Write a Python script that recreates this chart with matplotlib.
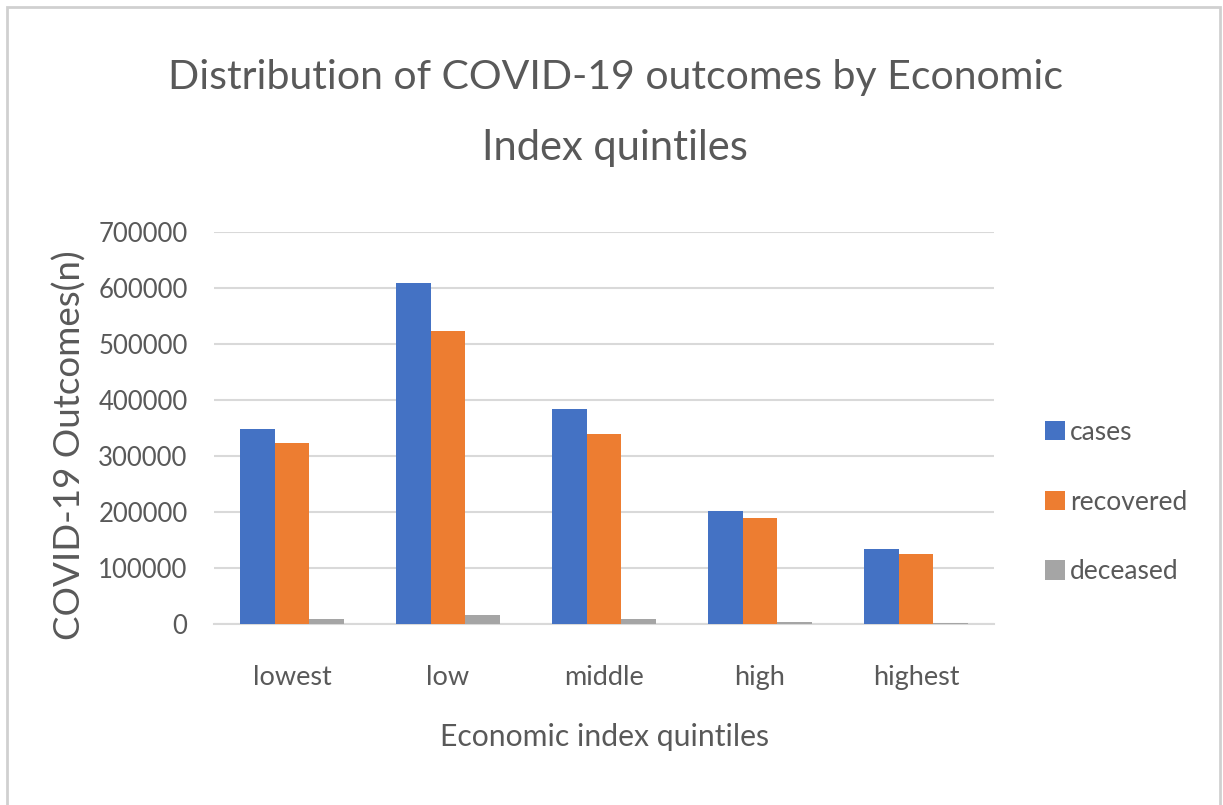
import matplotlib
matplotlib.use("Agg")
import matplotlib.pyplot as plt
from matplotlib.patches import Rectangle
import numpy as np

categories = ["lowest", "low", "middle", "high", "highest"]
cases = [349000, 610000, 385000, 203000, 135000]
recovered = [324000, 524000, 339000, 189000, 125000]
deceased = [9500, 16500, 9000, 3600, 3200]
series_names = ["cases", "recovered", "deceased"]
colors = ["#4472C4", "#ED7D31", "#A5A5A5"]
yticks = [0, 100000, 200000, 300000, 400000, 500000, 600000, 700000]

plt.rcParams['font.family'] = ['Lato', 'DejaVu Sans']
TXT = "#595959"

fig = plt.figure(figsize=(12.23, 8.05), dpi=100)
W, H = 1223, 805
ax = fig.add_axes([214 / W, 1 - 624.3 / H, 780 / W, (624.3 - 232.3) / H])

x = np.arange(len(categories))
bw = 0.221
for i, (vals, name, c) in enumerate(zip([cases, recovered, deceased], series_names, colors)):
    ax.bar(x + (i - 1) * bw, vals, width=bw, color=c, label=name, zorder=3)

ax.set_xlim(-0.5, len(categories) - 0.5)
ax.set_ylim(0, 700000)
ax.set_yticks(yticks)
ax.set_yticklabels([str(v) for v in yticks])
ax.set_xticks(x)
ax.set_xticklabels(categories)
ax.grid(axis='y', color="#D9D9D9", linewidth=1.5, zorder=0)
for s in ['top', 'right', 'left']:
    ax.spines[s].set_visible(False)
ax.spines['bottom'].set_color("#D9D9D9")
ax.spines['bottom'].set_linewidth(1.5)
ax.tick_params(axis='y', length=0, labelsize=18.5, colors=TXT, pad=19)
ax.tick_params(axis='x', length=0, labelsize=19.5, colors=TXT, pad=29)

fig.text(616 / W, 1 - 77 / H, "Distribution of COVID-19 outcomes by Economic",
         ha='center', va='center', fontsize=29.5, color=TXT)
fig.text(615 / W, 1 - 148 / H, "Index quintiles",
         ha='center', va='center', fontsize=30, color=TXT)
fig.text(70 / W, 1 - 445 / H, "COVID-19 Outcomes(n)", rotation=90,
         ha='center', va='center', fontsize=26.5, color=TXT)
fig.text(604 / W, 1 - 737 / H, "Economic index quintiles",
         ha='center', va='center', fontsize=21.7, color=TXT)

leg = ax.legend(loc='center left', bbox_to_anchor=(1021 / W, 1 - 502 / H),
                bbox_transform=fig.transFigure, frameon=False, fontsize=19,
                labelcolor=TXT, handlelength=0.75, handleheight=0.75,
                handletextpad=0.2, labelspacing=1.7)

fig.patches.append(Rectangle((7 / W, -0.05), (1220 - 7) / W, 1 - 7 / H + 0.05,
                             transform=fig.transFigure, fill=False,
                             edgecolor="#D0D0D0", linewidth=2))

fig.savefig("out.png", dpi=100)
